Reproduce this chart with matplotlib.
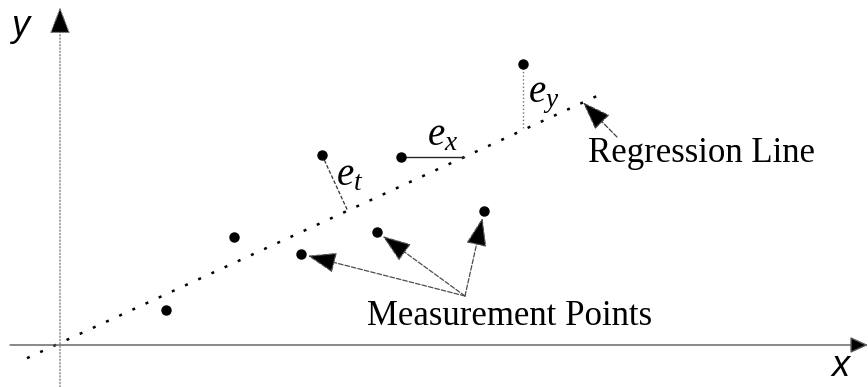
import numpy as np
import matplotlib
matplotlib.use("Agg")
import matplotlib.pyplot as plt

# measurement points (origin at the axis crossing)
point_x = [106, 174, 241, 262, 317, 341, 424, 463]
point_y = [35, 108, 91, 190, 113, 188, 134, 281]

# regression line y = slope * x + intercept
slope = 0.46
intercept = 2.0
line_x = [-33, 543]

# which points carry the error markers / the "Measurement Points" arrows
err_t_idx = 3
err_x_idx = 5
err_y_idx = 7
arrow_idx = [2, 4, 6]

labels = {"reg": "Regression Line", "meas": "Measurement Points"}

plt.rcParams["mathtext.fontset"] = "custom"
plt.rcParams["mathtext.it"] = "Liberation Serif:italic"
plt.rcParams["mathtext.rm"] = "Liberation Serif"

fig = plt.figure(figsize=(8.68, 3.87), dpi=100)
ax = fig.add_axes([0, 0, 1, 1])
ax.set_xlim(-60, 808)
ax.set_ylim(-42, 345)
ax.axis("off")

px = np.array(point_x, dtype=float)
py = np.array(point_y, dtype=float)

head = "-|>,head_length=1.8,head_width=0.65"

# axes with arrows
ax.annotate("", xy=(808, 0), xytext=(-50, 0),
            arrowprops=dict(arrowstyle="-|>,head_length=1.1,head_width=0.5",
                            mutation_scale=10, lw=1.0, ec="0.35", fc="black",
                            shrinkA=0, shrinkB=0))
ax.annotate("", xy=(0, 338), xytext=(0, -42),
            arrowprops=dict(arrowstyle="-|>,head_length=1.7,head_width=0.65",
                            mutation_scale=10, lw=0.9, ls=":", ec="0.45", fc="black",
                            shrinkA=0, shrinkB=0))
ax.text(-49, 318, "y", fontsize=26, family="Liberation Sans", style="italic",
        ha="left", va="center")
ax.text(771, -22, "x", fontsize=26, family="Liberation Sans", style="italic",
        ha="left", va="center")

# regression line
lx = np.array(line_x, dtype=float)
ax.plot(lx, slope * lx + intercept, color="black", lw=1.8,
        dashes=(1.2, 4.6), solid_capstyle="butt")

# points
ax.plot(px, py, "o", color="black", ms=6.5, zorder=5)

# e_t : perpendicular distance
x0, y0 = px[err_t_idx], py[err_t_idx]
t = (x0 + slope * (y0 - intercept)) / (1 + slope ** 2)
ax.plot([x0, t], [y0, slope * t + intercept], color="0.2", lw=0.9, ls=(0, (3, 1.5)))
ax.text(x0 + 14, y0 - 30, r"$e_t$", fontsize=28, ha="left", va="baseline")

# e_x : horizontal distance
x0, y0 = px[err_x_idx], py[err_x_idx]
ax.plot([x0, (y0 - intercept) / slope], [y0, y0], color="0.15", lw=1.0)
ax.text(x0 + 26, y0 + 12, r"$e_x$", fontsize=28, ha="left", va="baseline")

# e_y : vertical distance
x0, y0 = px[err_y_idx], py[err_y_idx]
ax.plot([x0, x0], [y0, slope * x0 + intercept], color="0.45", lw=1.0, ls=":")
ax.text(x0 + 5, y0 - 38, r"$e_y$", fontsize=28, ha="left", va="baseline")

# Regression Line label
tx, ty = 528, 183
ax.text(tx, ty, labels["reg"], fontsize=25, family="Liberation Serif",
        ha="left", va="baseline")
tip_x = 523
ax.annotate("", xy=(tip_x, slope * tip_x + intercept), xytext=(tx + 29, ty + 25),
            arrowprops=dict(arrowstyle=head, mutation_scale=10, lw=0.9, ls="--",
                            ec="0.25", fc="black", shrinkA=0, shrinkB=0))

# Measurement Points label
mx, my = 307, 20
ax.text(mx, my, labels["meas"], fontsize=25, family="Liberation Serif",
        ha="left", va="baseline")
for i in arrow_idx:
    ax.annotate("", xy=(px[i], py[i]), xytext=(mx + 98, my + 29),
                arrowprops=dict(arrowstyle=head, mutation_scale=10, lw=0.9, ls="--",
                                ec="0.3", fc="black", shrinkA=0, shrinkB=5))

fig.savefig("out.png", dpi=100, facecolor="white")
